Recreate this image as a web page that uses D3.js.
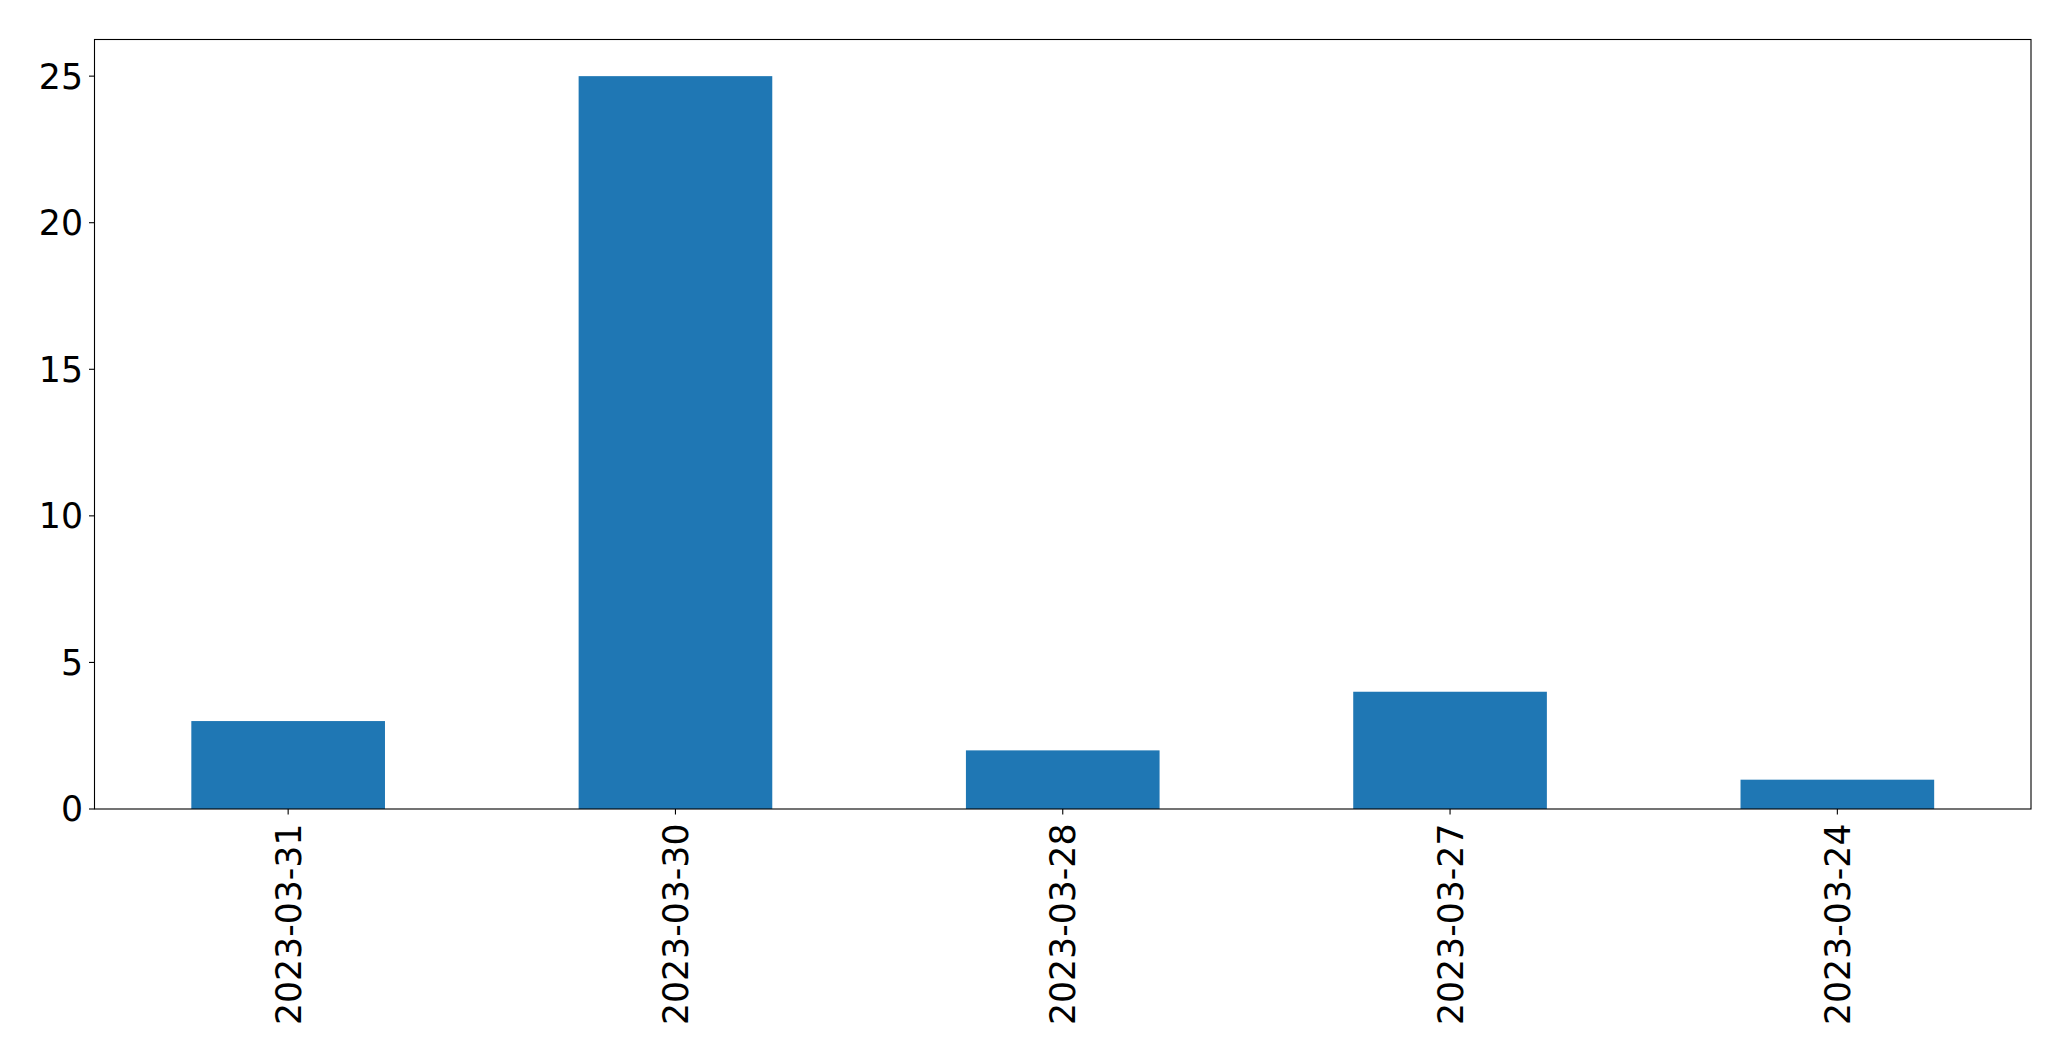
<!DOCTYPE html>
<html>
<head>
<meta charset="utf-8">
<script src="https://cdn.jsdelivr.net/npm/d3@7"></script>
<style>
  body { margin: 0; background: #fff; }
  text { font-family: 'DejaVu Sans', sans-serif; fill: #000; }
</style>
</head>
<body>
<svg id="viz"></svg>
<script>
const dates = ['2023-03-31', '2023-03-30', '2023-03-28', '2023-03-27', '2023-03-24']
const counts = [3, 25, 2, 4, 1]
const yTicks = [0, 5, 10, 15, 20, 25]

const width = 2071
const height = 1061
const margin = { top: 39.5, left: 94.5, right: 40, bottom: 252 }
const fontSize = 34.7
const tickLen = 5.5

const svg = d3.select('#viz').attr('width', width).attr('height', height)

const x = d3
  .scaleBand()
  .domain(dates)
  .range([margin.left, width - margin.right])
  .paddingInner(0.5)
  .paddingOuter(0.25)

const y = d3
  .scaleLinear()
  .domain([0, d3.max(counts) * 1.05])
  .range([height - margin.bottom, margin.top])

const data = dates.map((d, i) => ({ date: d, count: counts[i] }))

// bars
svg
  .append('g')
  .selectAll('rect')
  .data(data)
  .join('rect')
  .attr('x', (d) => x(d.date))
  .attr('width', x.bandwidth())
  .attr('y', (d) => y(d.count))
  .attr('height', (d) => y(0) - y(d.count))
  .attr('fill', '#1f77b4')

// y axis ticks + labels
const yAxis = svg.append('g')
yAxis
  .selectAll('line')
  .data(yTicks)
  .join('line')
  .attr('x1', margin.left - tickLen)
  .attr('x2', margin.left)
  .attr('y1', (d) => y(d))
  .attr('y2', (d) => y(d))
  .attr('stroke', '#000')
  .attr('stroke-width', 1.1)
yAxis
  .selectAll('text')
  .data(yTicks)
  .join('text')
  .attr('x', margin.left - tickLen - 6)
  .attr('y', (d) => y(d))
  .attr('dy', '0.36em')
  .attr('text-anchor', 'end')
  .attr('font-size', fontSize)
  .text((d) => d)

// x axis ticks + rotated labels
const xAxis = svg.append('g')
const cx = (d) => x(d) + x.bandwidth() / 2
xAxis
  .selectAll('line')
  .data(dates)
  .join('line')
  .attr('x1', cx)
  .attr('x2', cx)
  .attr('y1', y(0))
  .attr('y2', y(0) + tickLen)
  .attr('stroke', '#000')
  .attr('stroke-width', 1.1)
xAxis
  .selectAll('text')
  .data(dates)
  .join('text')
  .attr('transform', (d) => `translate(${cx(d)}, ${y(0) + tickLen + 9}) rotate(-90)`)
  .attr('dy', '0.36em')
  .attr('text-anchor', 'end')
  .attr('font-size', fontSize)
  .text((d) => d)

// frame
svg
  .append('rect')
  .attr('x', margin.left)
  .attr('y', margin.top)
  .attr('width', width - margin.right - margin.left)
  .attr('height', height - margin.bottom - margin.top)
  .attr('fill', 'none')
  .attr('stroke', '#000')
  .attr('stroke-width', 1.1)
</script>
</body>
</html>
